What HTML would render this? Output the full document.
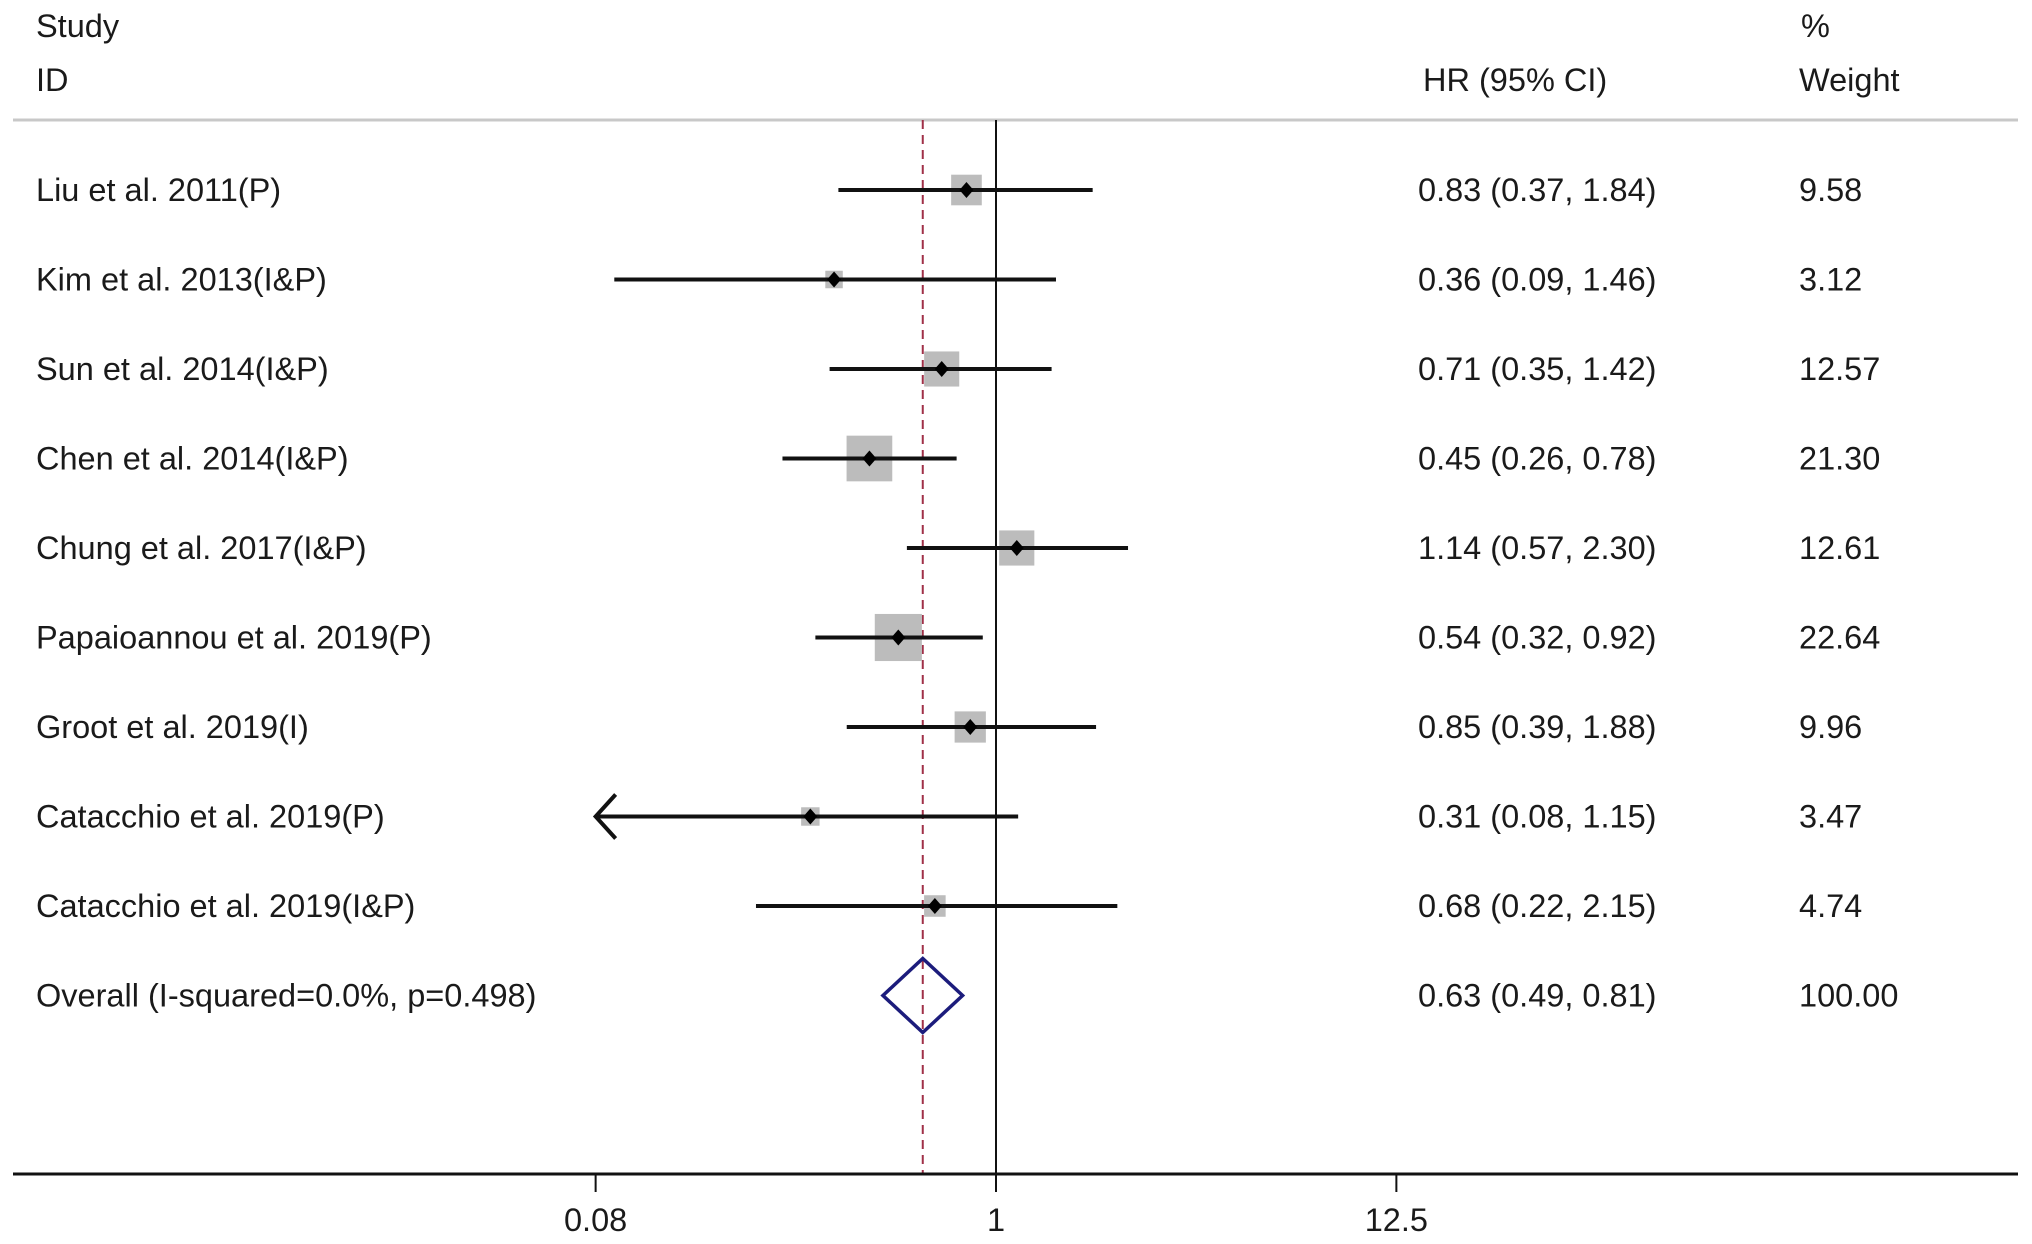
<!DOCTYPE html>
<html><head><meta charset="utf-8"><style>
html,body{margin:0;padding:0;background:#fff}
svg{display:block}
text{font-family:"Liberation Sans",Arial,sans-serif;font-size:32.5px;fill:#1a1a1a}
</style></head><body>
<svg id="c" width="2032" height="1244" viewBox="0 0 2032 1244">
<g id="g"></g>
</svg>
<script>
const studies = ["Liu et al. 2011(P)","Kim et al. 2013(I&P)","Sun et al. 2014(I&P)","Chen et al. 2014(I&P)","Chung et al. 2017(I&P)","Papaioannou et al. 2019(P)","Groot et al. 2019(I)","Catacchio et al. 2019(P)","Catacchio et al. 2019(I&P)"];
const hr = [0.83,0.36,0.71,0.45,1.14,0.54,0.85,0.31,0.68];
const lower = [0.37,0.09,0.35,0.26,0.57,0.32,0.39,0.08,0.22];
const upper = [1.84,1.46,1.42,0.78,2.30,0.92,1.88,1.15,2.15];
const weights = ["9.58","3.12","12.57","21.30","12.61","22.64","9.96","3.47","4.74"];
const overall = [0.63,0.49,0.81];
const overallLabel = "Overall (I-squared=0.0%, p=0.498)";
const ticks = [0.08,1,12.5];
const tickLabels = ["0.08","1","12.5"];

const NS="http://www.w3.org/2000/svg";
const g=document.getElementById('g');
const X0=996, PX=365, XMIN=0.08;
function x(v){return X0+PX*Math.log10(v);}
function rowY(i){return 190+i*89.5;}
function el(t,a,parent){const e=document.createElementNS(NS,t);for(const k in a)e.setAttribute(k,a[k]);(parent||g).appendChild(e);return e;}
function txt(s,xx,yy,anchor){const e=el('text',{x:xx,y:yy,'dominant-baseline':'central','text-anchor':anchor||'start'});e.textContent=s;return e;}
function fmt(v){return v.toFixed(2);}

let t;
t=txt("Study",36,26);


t=txt("ID",36,80);


t=txt("HR (95% CI)",1423,80);


t=txt("%",1801,26);


t=txt("Weight",1799,80);



let l=el('line',{x1:13,y1:120,x2:2018,y2:120,stroke:'#c8c8c8','stroke-width':3});


l=el('line',{x1:x(1),y1:120,x2:x(1),y2:1174,stroke:'#111','stroke-width':2});


l=el('line',{x1:x(overall[0]),y1:120,x2:x(overall[0]),y2:1174,stroke:'#a03048','stroke-width':2,'stroke-dasharray':'9 6'});



studies.forEach((s,i)=>{
  const y=rowY(i);
  let e=txt(s,36,y);
  
  
  const side=9.9*Math.sqrt(parseFloat(weights[i]));
  e=el('rect',{x:x(hr[i])-side/2,y:y-side/2,width:side,height:side,fill:'#bcbcbc'});
  
  
  const lo=Math.max(lower[i],XMIN);
  e=el('line',{x1:x(lo),y1:y,x2:x(upper[i]),y2:y,stroke:'#111','stroke-width':4});
  
  
  if(lower[i]<=XMIN){
    const ax=x(XMIN);
    e=el('polyline',{points:`${ax+20},${y-22} ${ax},${y} ${ax+20},${y+22}`,fill:'none',stroke:'#111','stroke-width':4});
    
    
  }
  const cx=x(hr[i]);
  e=el('polygon',{points:`${cx-7},${y} ${cx},${y-8} ${cx+7},${y} ${cx},${y+8}`,fill:'#000'});
  
  
  e=txt(`${fmt(hr[i])} (${fmt(lower[i])}, ${fmt(upper[i])})`,1418,y);
  
  
  e=txt(weights[i],1799,y);
  
  
});

const oy=rowY(9);
t=txt(overallLabel,36,oy);


const d=el('polygon',{points:`${x(overall[1])},${oy} ${x(overall[0])},${oy-37} ${x(overall[2])},${oy} ${x(overall[0])},${oy+37}`,fill:'none',stroke:'#1c1c7c','stroke-width':3.5});


t=txt(`${fmt(overall[0])} (${fmt(overall[1])}, ${fmt(overall[2])})`,1418,oy);


t=txt("100.00",1799,oy);



l=el('line',{x1:13,y1:1174,x2:2018,y2:1174,stroke:'#111','stroke-width':3});


ticks.forEach((v,i)=>{
  let e=el('line',{x1:x(v),y1:1174,x2:x(v),y2:1192,stroke:'#111','stroke-width':2});
  
  
  e=txt(tickLabels[i],x(v),1220,'middle');
  
  
});
</script>
</body></html>
